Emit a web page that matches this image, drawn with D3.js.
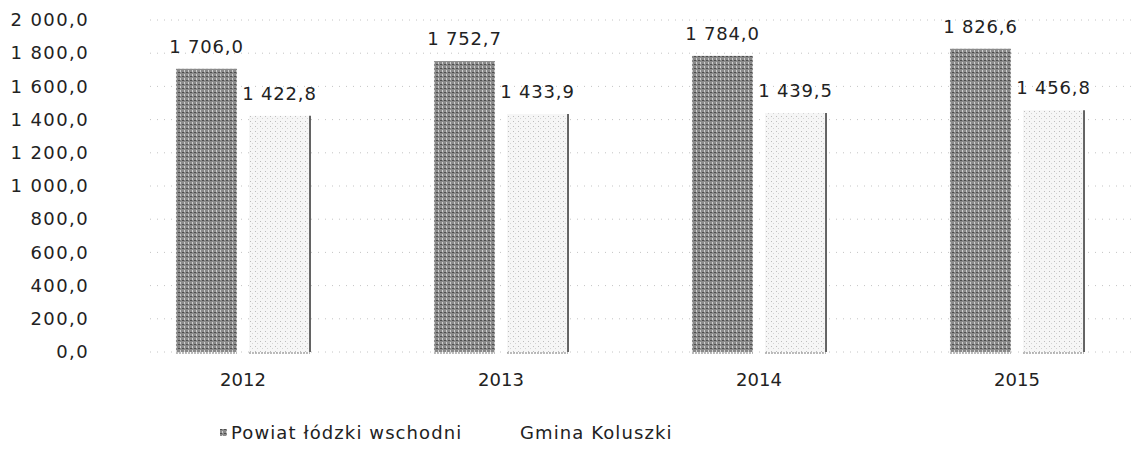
<!DOCTYPE html>
<html>
<head>
<meta charset="utf-8">
<script src="https://cdn.jsdelivr.net/npm/d3@7"></script>
<style>
  html, body { margin: 0; padding: 0; background: #fff; }
  svg text { font-family: "DejaVu Sans", sans-serif; fill: #222; }
</style>
</head>
<body>
<svg id="chart" width="1136" height="460"></svg>
<script>
// Data
const years = ["2012", "2013", "2014", "2015"];
const seriesNames = ["Powiat łódzki wschodni", "Gmina Koluszki"];
const powiatValues = [1706.0, 1752.7, 1784.0, 1826.6];
const gminaValues = [1422.8, 1433.9, 1439.5, 1456.8];
const yTicks = [0, 200, 400, 600, 800, 1000, 1200, 1400, 1600, 1800, 2000];

const svg = d3.select("#chart"),
    width = +svg.attr("width"),
    height = +svg.attr("height");

// Polish number format: "1 706,0"
const pl = d3.formatLocale({ decimal: ",", thousands: "\u00a0", grouping: [3], currency: ["", " zł"] });
const fmt = pl.format(",.1f");

// Scales
const y = d3.scaleLinear().domain([0, 2000]).range([352, 20]);
const x0 = d3.scaleBand().domain(years).range([114, 1146]).padding(0);
const x1 = d3.scaleBand().domain(seriesNames).range([0, x0.bandwidth()])
    .paddingInner(0.164).paddingOuter(0.849);

// Texture patterns to imitate the printed fill
const defs = svg.append("defs");
const dark = defs.append("pattern").attr("id", "pat-dark")
    .attr("width", 4).attr("height", 4).attr("patternUnits", "userSpaceOnUse");
dark.append("rect").attr("width", 4).attr("height", 4).attr("fill", "#8a8a8a");
dark.append("rect").attr("x", 0).attr("y", 0).attr("width", 2).attr("height", 1).attr("fill", "#4e4e4e");
dark.append("rect").attr("x", 2).attr("y", 2).attr("width", 1).attr("height", 2).attr("fill", "#d0d0d0");

const light = defs.append("pattern").attr("id", "pat-light")
    .attr("width", 5).attr("height", 5).attr("patternUnits", "userSpaceOnUse");
light.append("rect").attr("width", 5).attr("height", 5).attr("fill", "#f6f6f6");
light.append("rect").attr("x", 1).attr("y", 1).attr("width", 1).attr("height", 1).attr("fill", "#bdbdbd");
light.append("rect").attr("x", 3).attr("y", 3).attr("width", 1).attr("height", 1).attr("fill", "#d4d4d4");

// Gridlines (faint dotted)
svg.append("g")
    .selectAll("line")
    .data(yTicks)
    .enter()
    .append("line")
    .attr("x1", 150)
    .attr("x2", width)
    .attr("y1", d => y(d))
    .attr("y2", d => y(d))
    .style("stroke", "#c4c4c4")
    .style("stroke-dasharray", "1,6");

// Y axis labels
const yAxis = d3.axisLeft(y).tickValues(yTicks).tickFormat(fmt).tickSize(0).tickPadding(0);
svg.append("g")
    .attr("transform", "translate(89,0)")
    .call(yAxis)
    .call(g => g.select(".domain").remove())
    .selectAll("text")
    .style("font-size", "18px")
    .style("letter-spacing", "1.4px")
    .style("fill", "#222");

// Bars
const rows = years.map((yr, i) => ({ year: yr, values: [powiatValues[i], gminaValues[i]] }));

const groups = svg.append("g")
    .selectAll("g")
    .data(rows)
    .enter()
    .append("g")
    .attr("transform", d => `translate(${x0(d.year)},0)`);

groups.selectAll("rect")
    .data(d => d.values.map((v, k) => ({ key: seriesNames[k], value: v })))
    .enter()
    .append("rect")
    .attr("x", d => x1(d.key))
    .attr("y", d => y(d.value))
    .attr("width", x1.bandwidth())
    .attr("height", d => y(0) - y(d.value))
    .attr("fill", d => d.key === seriesNames[0] ? "url(#pat-dark)" : "url(#pat-light)");

// dark right edge on the Gmina bars
groups.append("line")
    .attr("x1", x1(seriesNames[1]) + x1.bandwidth())
    .attr("x2", x1(seriesNames[1]) + x1.bandwidth())
    .attr("y1", d => y(d.values[1]))
    .attr("y2", y(0))
    .style("stroke", "#333")
    .style("stroke-width", 1.5);

// baseline pieces under bars
groups.selectAll(".base")
    .data(seriesNames)
    .enter()
    .append("line")
    .attr("class", "base")
    .attr("x1", d => x1(d))
    .attr("x2", d => x1(d) + x1.bandwidth())
    .attr("y1", y(0) + 1)
    .attr("y2", y(0) + 1)
    .style("stroke", "#777")
    .style("stroke-dasharray", "2,1");

// Value labels
groups.selectAll(".val")
    .data(d => d.values.map((v, k) => ({ key: seriesNames[k], value: v })))
    .enter()
    .append("text")
    .attr("class", "val")
    .attr("x", d => x1(d.key) + x1.bandwidth() / 2)
    .attr("y", d => y(d.value) - 22)
    .attr("dy", "0.35em")
    .attr("text-anchor", "middle")
    .style("font-size", "18px")
    .style("letter-spacing", "0.8px")
    .text(d => fmt(d.value));

// X axis labels
svg.append("g")
    .attr("transform", `translate(0,${y(0)})`)
    .call(d3.axisBottom(x0).tickSize(0).tickPadding(21))
    .call(g => g.select(".domain").remove())
    .selectAll("text")
    .style("font-size", "18px")
    .style("fill", "#222");

// Legend
const legend = svg.append("g").attr("transform", "translate(0,433)");
const legendX = [220, 520];
seriesNames.forEach((name, i) => {
    legend.append("rect")
        .attr("x", legendX[i])
        .attr("y", -4)
        .attr("width", 7)
        .attr("height", 7)
        .attr("fill", i === 0 ? "url(#pat-dark)" : "#fff");
    legend.append("text")
        .attr("x", legendX[i] + (i === 0 ? 11 : 0))
        .attr("y", 0)
        .attr("dy", "0.35em")
        .style("font-size", "18px")
        .style("letter-spacing", "1.1px")
        .text(name);
});
</script>
</body>
</html>
